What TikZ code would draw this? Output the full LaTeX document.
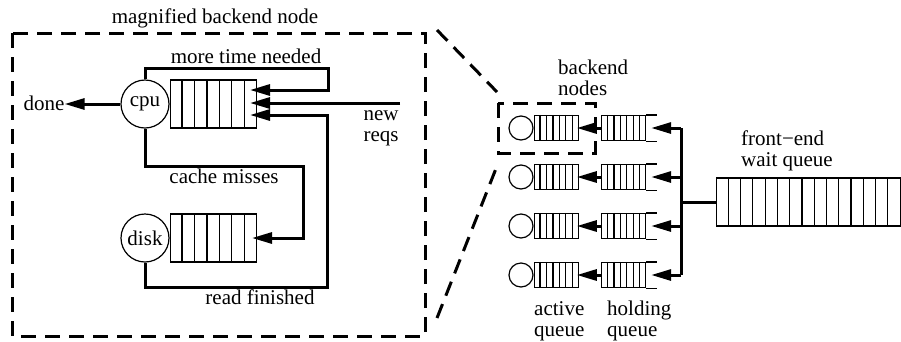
\documentclass[tikz,border=0pt]{standalone}
\usepackage{fontspec}
\setmainfont{Liberation Serif}
\usetikzlibrary{arrows.meta, calc}
\tikzset{
	txt/.style={inner sep=0pt, font=\fontsize{21}{21}\selectfont, align=left},
	qline/.style={line width=1.2pt},
	conn/.style={line width=3pt, -{Triangle[length=20pt, width=11pt]}},
	wire/.style={line width=3pt},
	zoombox/.style={line width=3pt, dash pattern=on 15pt off 9pt},
	srv/.style={circle, draw, line width=1.2pt, inner sep=0pt, minimum size=#1, font=\fontsize{21}{21}\selectfont},
	qbox/.style args={#1 and #2}{rectangle, draw, line width=1.2pt, inner sep=0pt, minimum width=#1, minimum height=#2}
}
\newcommand{\qcells}[2]{%
	\foreach \k [evaluate=\k as \f using \k/(#2+1)] in {1,...,#2}
		\draw[qline] ($(#1.north west)!\f!(#1.north east)$) -- ($(#1.south west)!\f!(#1.south east)$);
}

\begin{document}
\begin{tikzpicture}[x=1pt, y=-1pt]
	\useasboundingbox (0,0) rectangle (901,341);
	
	% magnified backend node
	\draw[zoombox] (12,33) rectangle (425,336);
	\node[txt, anchor=base] (title) at (215,23) {magnified backend node};
	
	\node[srv=48pt] (cpu) at (145,104) {cpu};
	\node[qbox=86pt and 48pt, anchor=west] (cpuq) at (cpu.east) {};
	\qcells{cpuq}{6}
	
	\node[srv=48pt] (disk) at (145,238) {disk};
	\node[qbox=86pt and 48pt, anchor=west] (diskq) at (disk.east) {};
	\qcells{diskq}{6}
	
	\coordinate (in1) at (250,90);
	\coordinate (in2) at (250,103);
	\coordinate (in3) at (250,115);
	\coordinate (mt) at (328,68);
	\coordinate (nr) at (400,103);
	\coordinate (cm) at (303,166);
	\coordinate (dk) at (252,238);
	\coordinate (rf) at (327,287);
	
	\node[txt, anchor=base] (done) at (44,110) {done};
	\draw[conn] (cpu.west) -- (cpu.west -| done.east);
	
	\draw[conn] (cpu.north) |- (mt) |- (in1);
	\draw[conn] (nr) -- (in2);
	\draw[conn] (cpu.south) |- (cm) |- (dk);
	\draw[conn] (disk.south) |- (rf) |- (in3);
	
	\node[txt, anchor=base] (lmt) at (246,63) {more time needed};
	\node[txt, align=center] (lnr) at (381,128) {new\\reqs};
	\node[txt, anchor=base] (lcm) at (224,183) {cache misses};
	\node[txt, anchor=base] (lrf) at (260,304) {read finished};
	
	% zoom lines
	\coordinate (zt1) at (437,30);
	\coordinate (zt2) at (497,92);
	\coordinate (zb1) at (437,318);
	\coordinate (zb2) at (497,166);
	\draw[zoombox] (498,103) rectangle (595,153);
	\draw[zoombox] (zt1) -- (zt2);
	\draw[zoombox] (zb1) -- (zb2);
	
	% backend nodes
	\foreach \r [count=\i] in {128,177,226,275} {
		\node[srv=24pt] (s\i) at (521,\r) {};
		\node[qbox=44pt and 25pt, anchor=west] (a\i) at (s\i.east) {};
		\qcells{a\i}{6}
		\node[qbox=44pt and 25pt, anchor=west] (h\i) at (601,\r) {};
		\qcells{h\i}{6}
		\draw[qline] (h\i.north east) -- ++(11,0) (h\i.south east) -- ++(11,0);
		\coordinate (b\i) at (681,\r);
		\draw[conn] (h\i.west) -- ([xshift=-2pt]a\i.east);
		\draw[conn] (b\i) -- ([xshift=5pt]h\i.east);
	}
	\draw[wire] (b1) -- (b4);
	
	% front-end wait queue
	\node[qbox=195.2pt and 48pt, anchor=west] (wq) at (716,202) {};
	\qcells{wq}{15}
	\coordinate (bj) at (681,202);
	\draw[wire] (bj) -- (wq.west);
	
	\node[txt, anchor=west] (lbn) at (558,78) {backend\\nodes};
	\node[txt, anchor=west] (lfe) at (741,151) {front−end\\wait queue};
	\node[txt, anchor=west] (laq) at (534,321) {active\\queue};
	\node[txt, anchor=west] (lhq) at (607,321) {holding\\queue};
\end{tikzpicture}
\end{document}
